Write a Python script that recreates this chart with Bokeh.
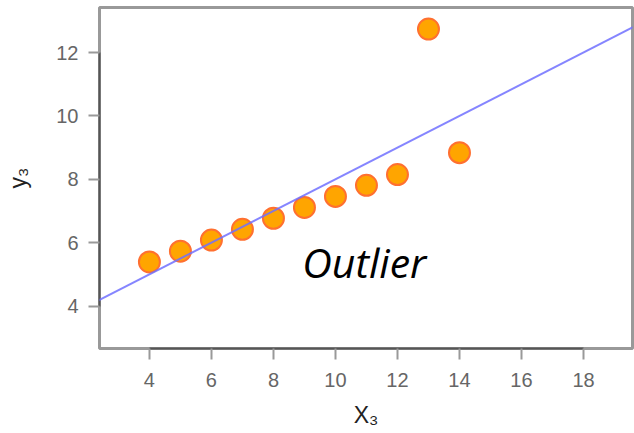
from bokeh.plotting import figure
from bokeh.models import Label, Slope, Range1d
from bokeh.embed import file_html
from bokeh.resources import INLINE

# Anscombe's quartet, set III
x3 = [10, 8, 13, 9, 11, 14, 6, 4, 12, 7, 5]
y3 = [7.46, 6.77, 12.74, 7.11, 7.81, 8.84, 6.08, 5.39, 8.15, 6.42, 5.73]
fit_slope = 0.5
fit_intercept = 3.0
x_ticks = [4, 6, 8, 10, 12, 14, 16, 18]
y_ticks = [4, 6, 8, 10, 12]

p = figure(width=634, height=433, output_backend="svg", toolbar_location=None,
           x_range=Range1d(2.39, 19.58), y_range=Range1d(2.66, 13.42),
           min_border_left=99, min_border_right=2, min_border_top=7, min_border_bottom=85)

p.xgrid.visible = False
p.ygrid.visible = False
p.outline_line_color = "#999999"
p.outline_line_width = 3
p.background_fill_color = "white"
p.border_fill_color = "white"

for ax, ticks in ((p.xaxis, x_ticks), (p.yaxis, y_ticks)):
    ax.ticker = ticks
    ax.bounds = (ticks[0], ticks[-1])
    ax.axis_line_color = "#555555"
    ax.axis_line_width = 2
    ax.major_tick_line_color = "#999999"
    ax.major_tick_line_width = 2
    ax.major_tick_out = 11
    ax.major_tick_in = 0
    ax.minor_tick_line_color = None
    ax.major_label_text_color = "#666666"
    ax.major_label_text_font = "Liberation Sans"
    ax.major_label_text_font_size = "20px"
    ax.axis_label_text_font = "Liberation Sans"
    ax.axis_label_text_font_style = "normal"
    ax.axis_label_text_font_size = "23px"
    ax.axis_label_text_color = "#222222"

p.xaxis.major_label_standoff = 13
p.yaxis.major_label_standoff = 10
p.xaxis.axis_label = "X₃"
p.yaxis.axis_label = "y₃"
p.xaxis.axis_label_standoff = 12
p.yaxis.axis_label_standoff = 22

p.scatter(x3, y3, size=21, fill_color="#FFA500", line_color="#FF7030", line_width=2)

p.add_layout(Slope(gradient=fit_slope, y_intercept=fit_intercept,
                   line_color="#7070FF", line_alpha=0.85, line_width=2))

p.add_layout(Label(x=8.93, y=5.4, text="Outlier", text_font="Open Sans",
                   text_font_style="italic", text_font_size="41px",
                   text_color="black", text_baseline="alphabetic"))

open("out.html", "w").write(file_html(p, INLINE))
